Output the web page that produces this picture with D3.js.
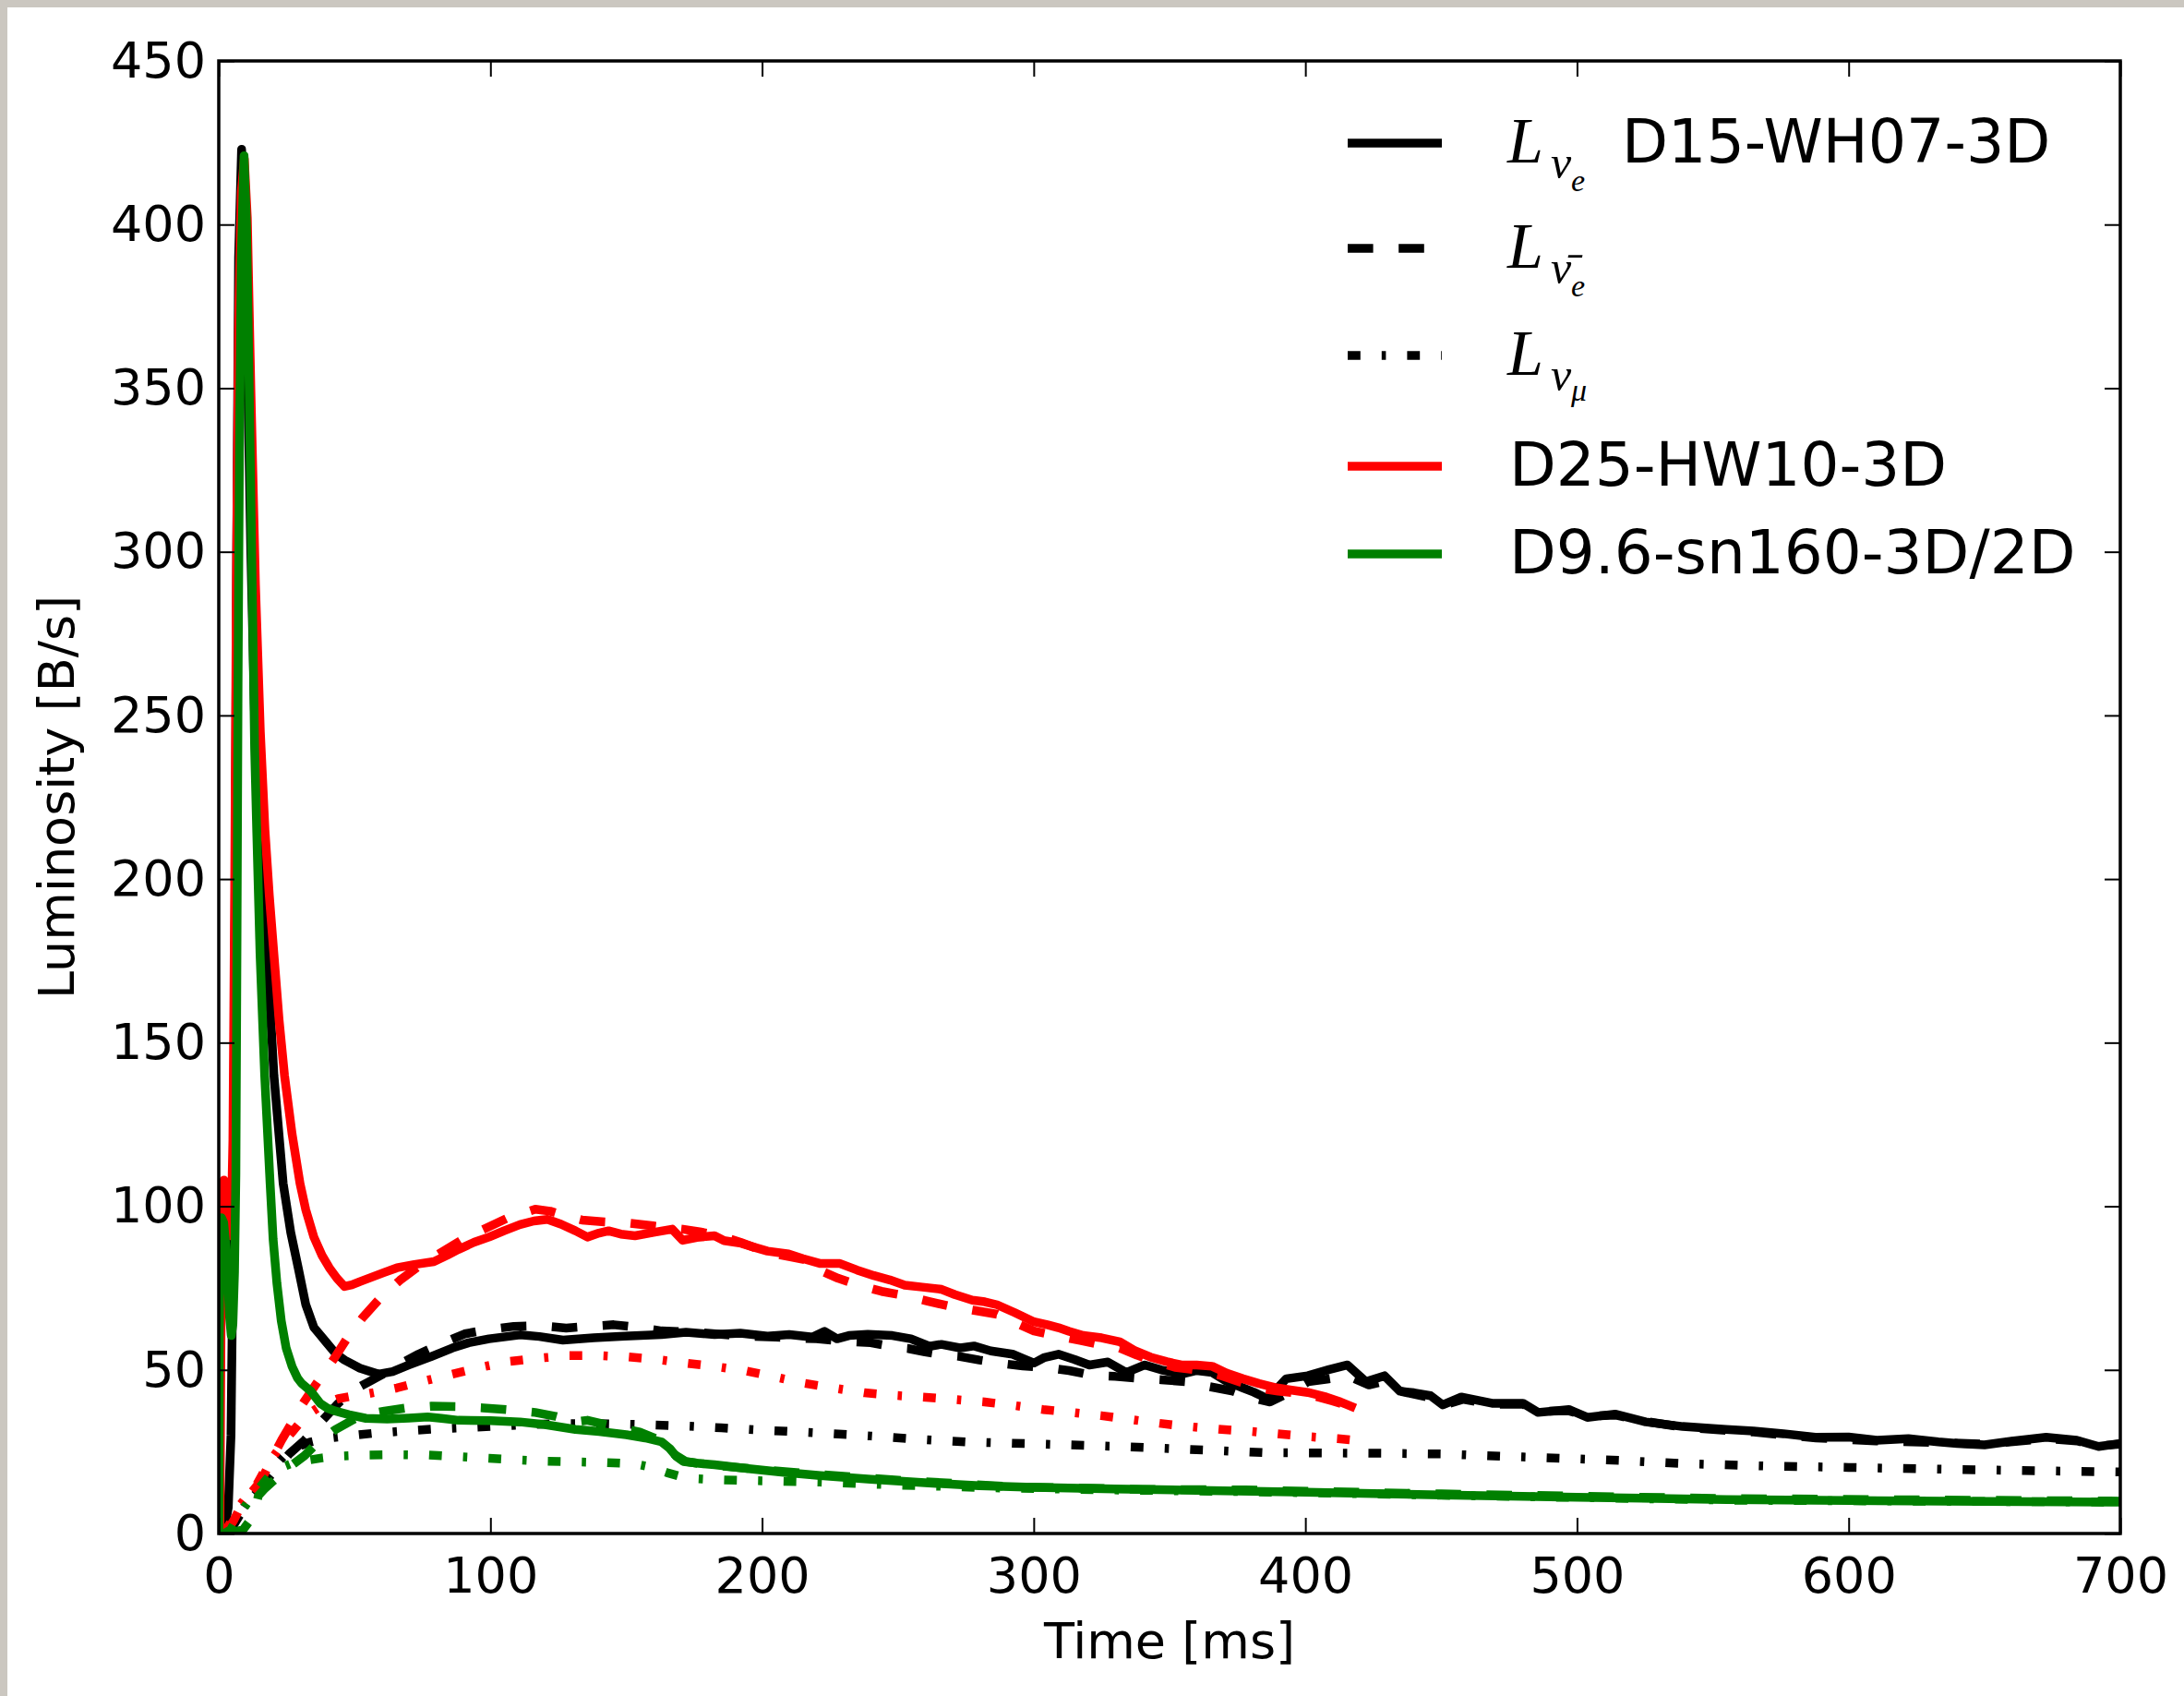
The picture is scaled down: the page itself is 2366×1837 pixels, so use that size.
<!DOCTYPE html>
<html>
<head>
<meta charset="utf-8">
<script src="https://cdn.jsdelivr.net/npm/d3@7/dist/d3.min.js"></script>
<style>
  body { margin: 0; background: #fff; }
  text { font-family: "DejaVu Sans", sans-serif; fill: #000; }
  .math { font-family: "Liberation Serif", "DejaVu Serif", serif; font-style: italic; }
  .tick line { stroke: #000; stroke-width: 2; }
</style>
</head>
<body>
<div id="chart"></div>
<script>
// tick values
var xTicks = [0, 100, 200, 300, 400, 500, 600, 700];
var yTicks = [0, 50, 100, 150, 200, 250, 300, 350, 400, 450];

// [time ms, luminosity B/s]
// D15-WH07-3D
var d15Nue = [[0,0],[2,1],[3.5,8],[4.5,30],[5.3,90],[6,190],[6.6,300],[7.3,390],[8.4,423],[9.5,405],[10.5,360],[11.8,300],[13.2,250],[15,212],[17.8,177],[20.3,140],[23.7,107],[26.5,92],[29.3,81],[32,70],[35,63],[37,61],[39.5,58.5],[43,55],[46.3,53],[52,50.5],[58.8,48.7],[64,49.5],[70,51.5],[78,54],[86,56.7],[92,58.3],[99.5,59.5],[110.9,60.7],[118,60.2],[126.7,59.1],[138,59.8],[149.3,60.3],[163,60.8],[172,61.5],[182.5,60.8],[192,61.2],[202,60.3],[210,60.8],[218.5,60],[223,61.8],[227.6,59.5],[232,60.5],[238.9,60.9],[248,60.5],[254.8,59.5],[261.6,57.2],[266,57.8],[272.9,56.7],[278,57.3],[284.2,55.8],[292.2,54.8],[296,53.5],[300.1,52.1],[304,53.8],[309.1,54.8],[315,53.2],[320.5,51.5],[327.3,52.4],[334.1,49.2],[340.9,51.5],[347,50],[354.4,48.7],[360,49.8],[365.7,49.2],[371,46.5],[377,44.5],[381,43.2],[386.1,41.2],[393,47.3],[400.9,48.2],[408.8,50.1],[415.5,51.5],[422.3,46.4],[429.1,48.2],[434.8,43.5],[440,43],[446.1,42.1],[450.6,39.3],[457.4,41.7],[468.7,39.8],[480.1,39.8],[485.7,37],[497,37.9],[503.8,35.5],[514,36.5],[525.3,34.1],[538.9,32.7],[554.8,31.8],[565,31.3],[576,30.5],[587.7,29.4],[600,29.5],[610.4,28.5],[622,29],[633,28],[640,27.5],[650,27.1],[660,28.2],[672.7,29.4],[684,28.5],[692,26.6],[700,27.5]];
var d15NueBar = [[1.5,0],[3,0.5],[5.5,2.6],[8,6],[11.2,9.7],[14.5,13],[18,16.7],[22,20.5],[25.9,24.3],[31.6,28.5],[37,33.5],[44,39.8],[49,43.5],[54.2,45.9],[60,48.5],[66,51.5],[73.5,54.8],[82,58],[90.5,61],[99,62.3],[108.6,63.3],[118,63.5],[127.9,62.8],[136,63.3],[145.4,63.8],[154,63],[163,61.9],[176,61.5],[190.3,60.5],[205,60],[220,59.5],[233.2,58.6],[240,58.3],[250.7,56.7],[254,56.5],[260,55.5],[268.3,54.4],[272,54.2],[280,53],[287.8,52],[296,51.2],[304.9,50.7],[313,49.8],[321.9,48.3],[330,48],[338.9,47.4],[347,47],[355.9,46.4],[364,45],[372.9,43.6],[380,41.5],[387,40.2],[394,43],[401,46.4],[408,47.2],[415.5,48.2],[423.4,45.4],[429,46.5],[434.8,43.5],[446,41.5],[452,39.5],[458,41],[469,39.5],[480,39.5],[486,37.3],[497,37.5],[504,35.8],[514,36.2],[525,34.3],[539,32.5],[555,31.5],[565,31],[588,29.2],[610,28.3],[633,27.8],[650,27.3],[673,29],[684,28.3],[692,26.8],[700,27.3]];
var d15Numu = [[1.5,0],[3,1],[5,3],[7.5,6],[10,9],[13.5,13],[17,17],[21,21],[24.8,24.5],[29,26.5],[33.9,28],[39,29],[45.2,29.6],[56.5,30.6],[68,31.3],[79,31.9],[90,32.3],[102,32.8],[115,33.3],[125,33.6],[140,33.6],[155,33.3],[170,32.9],[185,32.3],[200,31.6],[219.6,30.8],[240,29.8],[260,28.7],[275,28],[300,27.4],[331.7,26.6],[360,25.6],[385,24.7],[410,24.6],[430,24.5],[450.6,24.3],[480,23.4],[500,22.8],[516.3,22.3],[538,21.4],[571,20.6],[600,20.2],[630,19.7],[660,19.3],[692,18.9],[700,18.8]];

// D25-HW10-3D
var d25Nue = [[0.4,0],[0.8,60],[1.2,100],[1.9,108],[2.6,104],[3.3,95],[4,91],[4.6,95],[5.2,120],[5.8,190],[6.5,290],[7.3,370],[8.3,410],[9.4,420],[10.5,402],[11.8,350],[13.5,290],[15.3,245],[17,215],[18.6,195],[20.3,177],[22.2,157],[24.2,140],[27,122],[29.9,107],[32,99],[35,90.6],[38,85],[40.7,81.2],[43.5,78],[46.3,75.5],[49,76],[52,77],[56.5,78.4],[61,79.8],[65.6,81.2],[72,82.2],[79.2,83.1],[84,85],[88.2,86.8],[94,89],[99.5,90.6],[105,92.5],[110.9,94.4],[116,95.5],[121,96],[126,94.5],[131.3,92.5],[135.7,90.6],[140,91.8],[143.5,92.5],[148,91.5],[153.2,91],[160,92],[166.9,93],[170.8,89.6],[176,90.5],[182.5,91],[186,89.5],[192.3,88.7],[197,87.5],[202,86.3],[209.8,85.4],[215,84],[221.5,82.5],[228.7,82.5],[235,80.5],[241.2,78.8],[247,77.5],[252.5,75.9],[259,75.3],[266.1,74.6],[271,73],[277.4,71.3],[282,70.8],[286.5,69.9],[293,67.5],[300.1,64.7],[305,63.8],[309.1,62.9],[313,61.8],[318.2,60.5],[325,59.8],[331.7,58.6],[337,56],[343,53.9],[349,52.5],[354.4,51.5],[360,51.5],[365.7,51.1],[371,49],[377,47.3],[383,45.8],[389.5,44.5],[395,43.8],[400.9,43.1],[407.7,41.7],[413,40.2],[418.4,38.3]];
var d25NueBar = [[2,0],[3.3,1.2],[5.5,4],[7.8,7.8],[11.5,12],[15.7,16.3],[19,22],[23.1,28.5],[27,34],[31,39.8],[36.5,46.5],[42.4,53.4],[47.5,60],[53.1,66.1],[59.5,72],[66.7,77.4],[75,82.5],[83.7,86.8],[90,90],[97.3,92.9],[106,96.3],[116.5,99.1],[122,98.5],[128,97],[133.7,95.8],[142,95.2],[151.3,94.8],[160,94],[170.8,93],[177,92.2],[184.4,91],[192,89],[202,85.9],[210,84.6],[219.5,83.1],[221.9,80.2],[228,78],[235.5,75.9],[244,74],[252.5,72.7],[261,71],[269.5,69.4],[278,68.2],[286.5,67],[293,64.5],[300.1,61.9],[308,60.5],[317.1,59],[324,57.8],[331.7,56.7],[338,54.5],[345,52.5],[352,50.8],[360,50],[368,48.5],[377,46],[384,44.3],[390,43.5],[401,42.5],[410,40.5],[418,38.5]];
var d25Numu = [[2,0],[4,3],[7.8,8.7],[11,12],[14,15],[17,19.5],[20.3,23.8],[24,28],[27,31],[30,34],[33.9,37],[38.5,39.5],[44,41.2],[49,42],[54.2,42.6],[60,43.5],[65.6,44.5],[76,46.7],[86,48.7],[96,50.7],[106.3,52.5],[118,53.6],[129,54.4],[140,54.4],[150,54],[161,53.2],[172.7,52],[183,51],[194,49.7],[205,47.8],[215.6,45.9],[226,44.5],[237.7,43],[249,42.2],[260.4,41.6],[270,41],[281.9,40.2],[292,39.2],[303.4,37.9],[314,37],[324.9,36],[336,34.8],[347,33.6],[358,32.6],[369.2,31.8],[380,31.2],[390.7,30.4],[401,29.6],[412,29],[418,28.5]];

// D9.6-sn160-3D/2D
var d96Nue = [[0,0],[0.2,60],[0.5,92],[1,96.5],[1.8,95],[2.6,88],[3.4,76],[4,66],[4.6,60.5],[5.2,64],[5.8,80],[6.3,110],[6.7,180],[7.1,260],[7.6,330],[8.3,390],[9.3,421],[10.2,400],[11.2,350],[12.3,290],[13.2,240],[14,214],[15.2,177],[16.9,140],[18.9,107],[20,90],[21.4,76.5],[23,65],[24.8,56.7],[27,51],[29,47.5],[30.5,45.9],[33.9,43.5],[37.3,39.8],[40,38.3],[43,37.4],[48,36.3],[54.2,35.2],[62,35],[70,35.3],[76.9,35.6],[82,35.2],[88.2,34.6],[100,34.5],[110.9,34.1],[120,33.3],[131.3,31.8],[140,31.2],[150,30.2],[157,29.2],[163,28],[166,26],[168.5,23.5],[171,22],[176,21.5],[182.5,21],[195,19.8],[208,18.7],[221.5,17.7],[240,16.6],[260,15.5],[280,14.6],[300,14.1],[330,13.6],[360,13.2],[400,12.6],[450,11.8],[500,11.1],[555,10.4],[600,10.1],[650,9.8],[700,9.6]];
var d96NueBar = [[3,0],[6,0.5],[9,1.2],[11.5,4],[13.5,7.8],[14.6,11.6],[17,13.8],[20,16],[23.5,18.5],[27.1,21],[31.6,23.8],[36,27.5],[43,31.8],[50,35],[55,36.5],[61,37.4],[70,38.5],[78,38.9],[88,38.8],[97.3,38.4],[107,37.8],[116.5,37],[124,35.8],[131.3,34.1],[135.7,34.6],[145,32.8],[155,31],[161,29],[165,27],[168,24],[172,22],[178,21.2],[185,20.6],[200,19.5],[221.5,18],[250,16.3],[291.7,14.3],[340,13.5],[378,13.3],[450,12.1],[500,11.4],[555,10.7],[620,10.3],[700,9.9]];
var d96Numu = [[2,0],[4.4,1.2],[6,3.5],[7.8,5.9],[11,10],[15,14],[18.5,17.5],[22.5,20],[27,21.5],[32.7,22.4],[38,23.1],[43,23.6],[54.2,24],[65,24.1],[76.9,24],[88,23.5],[99.5,23],[110,22.5],[120,22.1],[131.3,21.9],[142,21.7],[153.2,21.3],[159,20.3],[165,18.6],[170,17.4],[174.7,16.8],[185,16.4],[200,16.1],[221.5,15.7],[250,14.8],[287.8,13.9],[330,13.3],[378,12.8],[450,11.7],[500,11],[555,10.2],[620,9.9],[700,9.6]];

var COLORS = { black: "#000000", red: "#ff0000", green: "#008000" };
var DASHES = { solid: null, dashed: "27.6,27.6", dashdot: "13.8,23,4.6,23" };

var series = [
  { data: d15Nue, color: COLORS.black, dash: "solid" },
  { data: d15NueBar, color: COLORS.black, dash: "dashed" },
  { data: d15Numu, color: COLORS.black, dash: "dashdot" },
  { data: d25Nue, color: COLORS.red, dash: "solid" },
  { data: d25NueBar, color: COLORS.red, dash: "dashed" },
  { data: d25Numu, color: COLORS.red, dash: "dashdot" },
  { data: d96Nue, color: COLORS.green, dash: "solid" },
  { data: d96NueBar, color: COLORS.green, dash: "dashed" },
  { data: d96Numu, color: COLORS.green, dash: "dashdot" }
];

var width = 2366;
var height = 1837;
var margins = { top: 66, right: 69, bottom: 176, left: 237 };
var chartWidth = width - margins.left - margins.right;
var chartHeight = height - margins.top - margins.bottom;
var lineWidth = 9.5;
var tickLen = 17;

var svg = d3.select("#chart")
  .append("svg")
  .attr("width", width)
  .attr("height", height);

// page edge (scanned border on left/top)
svg.append("rect").attr("width", width).attr("height", height).attr("fill", "#cbc7c0");
svg.append("rect").attr("x", 8).attr("y", 8).attr("width", width - 8).attr("height", height - 8).attr("fill", "#fff");

var chartElement = svg.append("g")
  .attr("transform", `translate(${margins.left},${margins.top})`);

var xScale = d3.scaleLinear().domain([0, 700]).range([0, chartWidth]);
var yScale = d3.scaleLinear().domain([0, 450]).range([chartHeight, 0]);

chartElement.append("clipPath").attr("id", "plot-clip")
  .append("rect").attr("width", chartWidth).attr("height", chartHeight);

// Render lines
var line = d3.line()
  .x(d => xScale(d[0]))
  .y(d => yScale(d[1]));

chartElement.append("g")
  .attr("class", "lines")
  .attr("clip-path", "url(#plot-clip)")
  .selectAll("path")
  .data(series)
  .enter()
  .append("path")
  .attr("fill", "none")
  .attr("stroke", d => d.color)
  .attr("stroke-width", lineWidth)
  .attr("stroke-linejoin", "round")
  .attr("stroke-linecap", "butt")
  .attr("stroke-dasharray", d => DASHES[d.dash])
  .attr("d", d => line(d.data));

// Axes with inward ticks on all sides
var xAxis = d3.axisBottom(xScale).tickValues(xTicks).tickSizeInner(-tickLen).tickSizeOuter(0).tickPadding(26);
var yAxis = d3.axisLeft(yScale).tickValues(yTicks).tickSizeInner(-tickLen).tickSizeOuter(0).tickPadding(14);

chartElement.append("g")
  .attr("class", "x axis")
  .attr("transform", `translate(0,${chartHeight})`)
  .call(xAxis);
chartElement.append("g")
  .attr("class", "y axis")
  .call(yAxis);

chartElement.append("g")
  .attr("class", "x axis top")
  .call(d3.axisTop(xScale).tickValues(xTicks).tickSizeInner(-tickLen).tickSizeOuter(0).tickFormat(""));
chartElement.append("g")
  .attr("class", "y axis right")
  .attr("transform", `translate(${chartWidth},0)`)
  .call(d3.axisRight(yScale).tickValues(yTicks).tickSizeInner(-tickLen).tickSizeOuter(0).tickFormat(""));

chartElement.selectAll(".axis .domain").remove();
chartElement.selectAll(".axis text")
  .attr("font-family", "DejaVu Sans")
  .attr("font-size", 54)
  .attr("fill", "#000");

// frame
chartElement.append("rect")
  .attr("width", chartWidth)
  .attr("height", chartHeight)
  .attr("fill", "none")
  .attr("stroke", "#000")
  .attr("stroke-width", 3.5);

// Axis labels
svg.append("text")
  .attr("transform", `translate(80,${margins.top + chartHeight / 2}) rotate(-90)`)
  .attr("text-anchor", "middle")
  .attr("font-size", 54)
  .text("Luminosity [B/s]");

svg.append("text")
  .attr("x", margins.left + chartWidth / 2)
  .attr("y", 1796)
  .attr("text-anchor", "middle")
  .attr("font-size", 54)
  .text("Time [ms]");

// Legend
var legendRows = [
  { y: 155, color: COLORS.black, dash: "solid", sub: "\u03bd", sub2: "e", label: "D15-WH07-3D" },
  { y: 269, color: COLORS.black, dash: "dashed", sub: "\u03bd\u0304", sub2: "e", label: "" },
  { y: 385, color: COLORS.black, dash: "dashdot", sub: "\u03bd", sub2: "\u03bc", label: "" },
  { y: 505, color: COLORS.red, dash: "solid", sub: null, label: "D25-HW10-3D" },
  { y: 600, color: COLORS.green, dash: "solid", sub: null, label: "D9.6-sn160-3D/2D" }
];

var legend = svg.append("g").attr("class", "legend");

legend.selectAll("line")
  .data(legendRows)
  .enter()
  .append("line")
  .attr("x1", 1460)
  .attr("x2", 1562)
  .attr("y1", d => d.y)
  .attr("y2", d => d.y)
  .attr("stroke", d => d.color)
  .attr("stroke-width", lineWidth)
  .attr("stroke-dasharray", d => DASHES[d.dash]);

legendRows.forEach(function(d) {
  var base = d.y + 21;
  if (d.sub) {
    // L with nested subscripts as one text element
    var m = legend.append("text").attr("class", "math");
    m.append("tspan").attr("x", 1633).attr("y", base).attr("font-size", 70).text("L");
    m.append("tspan").attr("x", 1680).attr("y", base + 17).attr("font-size", 50).text(d.sub);
    m.append("tspan").attr("x", 1702).attr("y", base + (d.sub2 === "e" ? 31 : 28)).attr("font-size", 34).text(d.sub2);
    if (d.label) {
      legend.append("text")
        .attr("x", 1757).attr("y", base).attr("font-size", 65).text(d.label);
    }
  } else {
    legend.append("text")
      .attr("x", 1635).attr("y", base).attr("font-size", 66).text(d.label);
  }
});
</script>
</body>
</html>
